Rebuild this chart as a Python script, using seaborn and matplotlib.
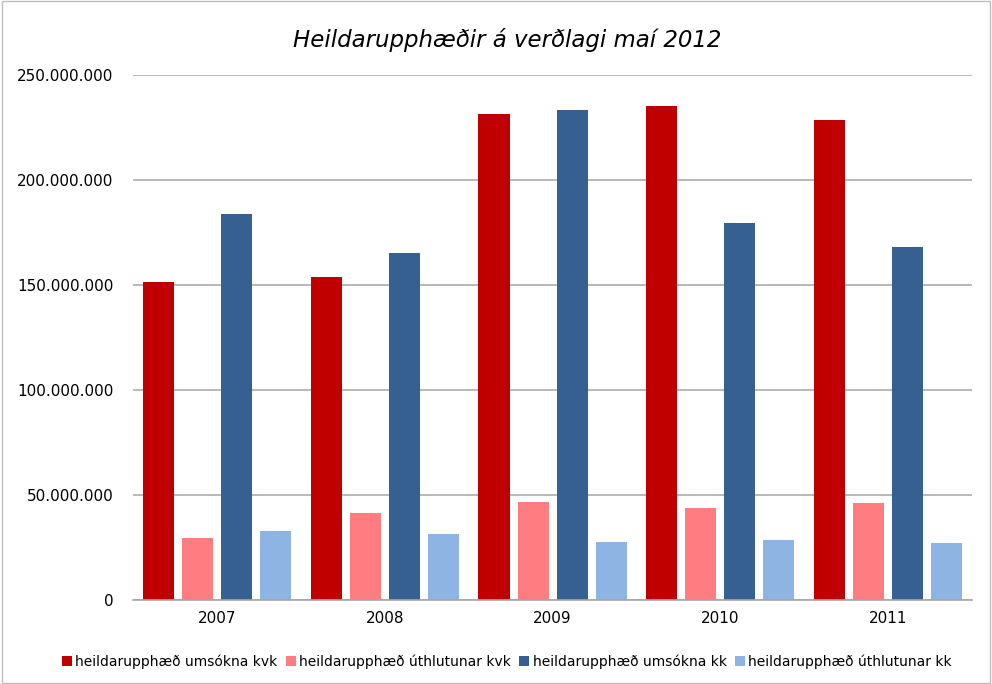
import pandas as pd
import seaborn as sns
import matplotlib.pyplot as plt
from matplotlib.ticker import FuncFormatter
from matplotlib.patches import Rectangle

years = ["2007", "2008", "2009", "2010", "2011"]
umsokna_kvk = [151.5e6, 153.7e6, 231.7e6, 235.4e6, 228.9e6]
uthlutunar_kvk = [29.7e6, 41.4e6, 46.7e6, 44.0e6, 46.0e6]
umsokna_kk = [183.8e6, 165.1e6, 233.6e6, 179.8e6, 168.3e6]
uthlutunar_kk = [32.9e6, 31.3e6, 27.6e6, 28.6e6, 27.0e6]
series = ["heildarupphæð umsókna kvk", "heildarupphæð úthlutunar kvk",
          "heildarupphæð umsókna kk", "heildarupphæð úthlutunar kk"]
colors = ["#C00000", "#FF7C80", "#376092", "#8DB4E2"]

rows = []
for name, vals in zip(series, [umsokna_kvk, uthlutunar_kvk, umsokna_kk, uthlutunar_kk]):
    for y, v in zip(years, vals):
        rows.append({"ar": y, "rod": name, "upphaed": v})
df = pd.DataFrame(rows)

sns.set_style("white")
plt.rcParams["text.color"] = "#000000"
fig = plt.figure(figsize=(9.92, 6.84), dpi=100)
ax = fig.add_axes([0.134, 0.123, 0.846, 0.767])
sns.barplot(data=df, x="ar", y="upphaed", hue="rod", palette=colors,
            width=0.93, saturation=1, linewidth=0, ax=ax, legend=True)

# leave a small gap between bars in each group
for p in ax.patches:
    w = p.get_width()
    if w > 0:
        nw = w * 31 / 39
        p.set_x(p.get_x() + (w - nw) / 2)
        p.set_width(nw)

ax.set_ylim(0, 250e6)
ax.set_yticks(range(0, 250000001, 50000000))
ax.yaxis.set_major_formatter(FuncFormatter(lambda v, _: f"{int(v):,}".replace(",", ".")))
ax.grid(axis="y", color="#A6A6A6", linewidth=1.1)
ax.set_axisbelow(True)
for s in ["top", "right", "left"]:
    ax.spines[s].set_visible(False)
ax.spines["bottom"].set_color("#A6A6A6")
ax.spines["bottom"].set_linewidth(1.2)
ax.set_xlabel("")
ax.set_ylabel("")
ax.tick_params(axis="both", labelsize=11, length=0, colors="#000000")
ax.tick_params(axis="y", pad=14)
ax.tick_params(axis="x", pad=8)
ax.set_xlim(-0.5, 4.5)

fig.text(0.511, 0.942, "Heildarupphæðir á verðlagi maí 2012", fontsize=16.5,
         style="italic", ha="center", va="center", color="#000000")

handles, labels = ax.get_legend_handles_labels()
ax.get_legend().remove()
leg = fig.legend(handles, labels, loc="center", bbox_to_anchor=(0.511, 0.033),
                 ncol=4, frameon=False, fontsize=10, handlelength=0.7, handleheight=0.7,
                 handletextpad=0.25, columnspacing=0.6)
for t in leg.get_texts():
    t.set_color("#000000")

fig.patches.append(Rectangle((0.002, 0.002), 0.996, 0.996, transform=fig.transFigure,
                             fill=False, edgecolor="#BFBFBF", linewidth=1))

fig.savefig("out.png", dpi=100)
